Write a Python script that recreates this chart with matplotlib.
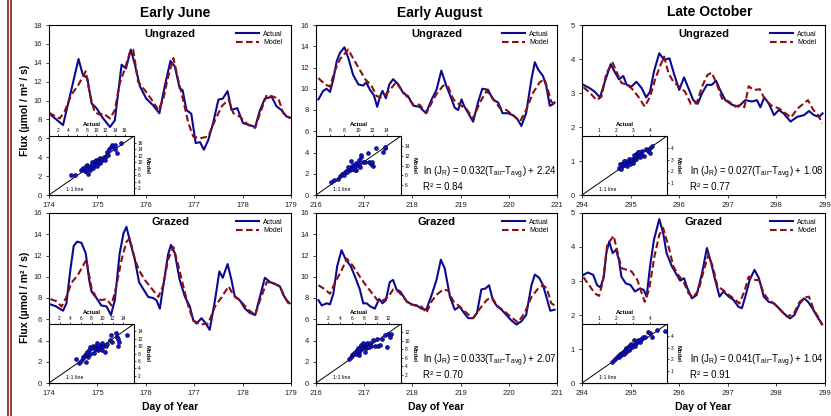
import numpy as np
import matplotlib
matplotlib.use("Agg")
import matplotlib.pyplot as plt
from matplotlib.lines import Line2D

plt.rcParams['font.family'] = ['Liberation Sans', 'DejaVu Sans']

# ---------------- data ----------------
# Early June, ungrazed
jun_ug_t_act = [174.00, 174.29, 174.46, 174.61, 174.70, 174.79, 174.88, 174.98, 175.12, 175.26, 175.36, 175.50,
                175.59, 175.69, 175.77, 175.88, 176.01, 176.15, 176.28, 176.39, 176.51, 176.60, 176.70, 176.76,
                176.84, 176.94, 177.03, 177.12, 177.20, 177.29, 177.39, 177.50, 177.59, 177.69, 177.77, 177.89,
                178.01, 178.15, 178.26, 178.36, 178.46, 178.60, 178.70, 178.80, 178.91, 178.98]
jun_ug_act = [8.65, 7.4, 11.1, 14.4, 12.7, 12.4, 9.7, 9.2, 8.1, 7.2, 7.9, 13.8,
              13.4, 15.4, 13.9, 11.5, 10.2, 9.5, 8.65, 11.5, 14.2, 13.6, 11.3, 11.1,
              9.0, 8.6, 5.5, 5.6, 4.8, 5.8, 7.6, 10.1, 10.2, 11.0, 9.0, 9.2,
              7.6, 7.4, 7.2, 9.0, 10.2, 10.4, 9.4, 9.0, 8.3, 8.2]
jun_ug_t_mod = [174.00, 174.22, 174.32, 174.46, 174.60, 174.76, 174.84, 174.94, 175.05, 175.12, 175.26, 175.36,
                175.46, 175.57, 175.67, 175.74, 175.84, 175.98, 176.12, 176.26, 176.36, 176.46, 176.57, 176.67,
                176.77, 176.88, 176.98, 177.12, 177.29, 177.43, 177.57, 177.71, 177.81, 177.94, 178.12, 178.26,
                178.36, 178.50, 178.64, 178.74, 178.84, 178.98]
jun_ug_mod = [8.7, 8.1, 8.8, 10.6, 11.6, 13.1, 10.8, 8.8, 8.5, 8.65, 8.1, 9.0,
              11.8, 13.4, 15.1, 15.4, 12.0, 11.1, 10.1, 9.0, 10.1, 12.5, 14.5, 12.2,
              10.1, 7.6, 6.2, 6.0, 6.2, 7.9, 9.4, 10.1, 8.65, 8.3, 7.4, 7.1,
              8.65, 10.6, 10.4, 10.2, 8.65, 8.1]
jun_ug_sc_act = [4.7, 5.4, 6.8, 7.2, 7.6, 7.8, 8.0, 8.3, 8.5, 8.8, 9.0, 9.2, 9.3, 9.5, 9.7, 9.9, 10.0, 10.2,
                 10.4, 10.6, 10.7, 10.9, 11.1, 11.3, 11.6, 11.8, 12.0, 12.3, 12.5, 12.8, 13.2, 13.4, 13.7,
                 13.9, 14.3, 13.9, 15.3, 9.3, 8.6, 7.9]
jun_ug_sc_mod = [6.2, 6.2, 7.7, 8.2, 7.2, 8.7, 9.3, 6.5, 8.2, 8.7, 9.3, 10.0, 8.2, 9.3, 10.3, 9.6, 10.8, 8.7,
                 10.3, 11.0, 9.8, 11.3, 10.5, 11.0, 11.6, 10.8, 12.0, 13.1, 12.3, 13.9, 14.7, 15.2, 14.9,
                 14.1, 12.9, 15.2, 15.9, 9.3, 7.7, 7.2]

# Early August, ungrazed
aug_ug_t_act = [216.05, 216.15, 216.22, 216.29, 216.36, 216.43, 216.50, 216.59, 216.67, 216.77, 216.88, 216.98,
                217.04, 217.12, 217.20, 217.27, 217.33, 217.38, 217.45, 217.52, 217.60, 217.71, 217.81, 217.91,
                218.02, 218.15, 218.28, 218.40, 218.50, 218.60, 218.71, 218.79, 218.88, 218.95, 219.02, 219.07,
                219.16, 219.26, 219.36, 219.45, 219.57, 219.67, 219.78, 219.87, 219.98, 220.09, 220.17, 220.26,
                220.36, 220.47, 220.54, 220.61, 220.71, 220.78, 220.85, 220.90, 220.95]
aug_ug_act = [9.0, 9.8, 10.0, 9.7, 10.9, 12.6, 13.4, 13.9, 12.9, 11.3, 10.4, 10.3,
              10.6, 9.9, 9.4, 8.3, 9.3, 9.8, 9.1, 10.4, 10.9, 10.4, 9.6, 9.3,
              8.4, 8.3, 7.7, 9.0, 9.9, 11.7, 10.2, 9.3, 8.2, 8.0, 9.0, 8.4,
              7.7, 6.9, 8.7, 10.0, 9.9, 9.0, 8.7, 7.7, 7.7, 7.5, 7.2, 6.5,
              7.7, 10.9, 12.5, 11.8, 11.2, 10.2, 8.4, 8.5, 8.7]
aug_ug_t_mod = [216.05, 216.19, 216.29, 216.39, 216.50, 216.67, 216.74, 216.88, 217.02, 217.15, 217.26, 217.36,
                217.46, 217.57, 217.66, 217.74, 217.88, 218.02, 218.15, 218.29, 218.40, 218.50, 218.64, 218.74,
                218.85, 218.98, 219.12, 219.26, 219.40, 219.54, 219.67, 219.81, 219.95, 220.09, 220.23, 220.36,
                220.50, 220.64, 220.74, 220.81, 220.88, 220.95]
aug_ug_mod = [11.0, 10.4, 10.2, 11.7, 12.8, 13.7, 13.1, 12.0, 10.9, 10.3, 9.3, 9.2,
              9.5, 10.1, 10.6, 10.1, 9.3, 8.5, 8.5, 7.7, 8.7, 9.5, 10.3, 10.2,
              9.0, 8.5, 8.1, 7.2, 8.7, 9.8, 9.1, 8.2, 8.0, 7.5, 6.9, 8.0,
              9.6, 10.6, 10.9, 9.9, 8.8, 8.5]
aug_ug_sc_act = [6.1, 6.6, 7.1, 7.4, 7.7, 8.0, 8.2, 8.4, 8.6, 8.8, 8.9, 9.0, 9.2, 9.4, 9.5, 9.6, 9.7, 9.9, 10.0,
                 10.1, 10.3, 10.4, 10.6, 10.2, 10.9, 11.4, 11.5, 11.7, 11.9, 12.1, 12.5, 13.5, 13.8, 13.8,
                 8.5, 9.5, 8.0, 9.1]
aug_ug_sc_mod = [6.7, 7.1, 7.3, 7.8, 8.2, 8.5, 8.9, 8.7, 9.3, 9.0, 10.9, 9.7, 10.2, 9.3, 9.8, 10.5, 9.0, 10.1, 10.4,
                 11.1, 11.7, 12.1, 10.7, 9.7, 10.7, 12.6, 10.7, 10.4, 10.7, 9.8, 13.5, 12.8, 13.5, 13.8,
                 9.7, 9.0, 8.0, 9.3]

# Late October, ungrazed
oct_ug_t_act = [294.03, 294.16, 294.26, 294.37, 294.47, 294.59, 294.67, 294.76, 294.85, 294.92, 295.02, 295.12,
                295.23, 295.32, 295.40, 295.48, 295.59, 295.69, 295.80, 295.89, 296.00, 296.10, 296.19, 296.29,
                296.38, 296.47, 296.57, 296.67, 296.76, 296.84, 296.95, 297.09, 297.22, 297.36, 297.50, 297.60,
                297.67, 297.75, 297.84, 297.95, 298.05, 298.15, 298.29, 298.43, 298.57, 298.67, 298.77, 298.88,
                298.95]
oct_ug_act = [3.24, 3.14, 3.04, 2.87, 3.33, 3.85, 3.63, 3.40, 3.50, 3.24, 3.19, 3.33,
              3.14, 2.87, 3.04, 3.63, 4.17, 3.97, 4.02, 3.58, 3.09, 3.46, 3.14, 2.79,
              2.68, 2.99, 3.24, 3.24, 3.36, 3.09, 2.79, 2.65, 2.60, 2.79, 2.75, 2.79,
              2.58, 2.87, 2.70, 2.35, 2.50, 2.40, 2.16, 2.30, 2.35, 2.47, 2.35, 2.30,
              2.40]
oct_ug_t_mod = [294.03, 294.16, 294.30, 294.40, 294.50, 294.63, 294.71, 294.81, 294.92, 295.02, 295.16, 295.29,
                295.40, 295.50, 295.60, 295.69, 295.78, 295.88, 296.00, 296.12, 296.24, 296.36, 296.47, 296.58,
                296.67, 296.78, 296.88, 297.02, 297.15, 297.26, 297.34, 297.43, 297.53, 297.66, 297.77, 297.91,
                298.05, 298.19, 298.30, 298.44, 298.57, 298.65, 298.76, 298.86, 298.94]
oct_ug_mod = [3.17, 3.01, 2.79, 2.89, 3.58, 3.89, 3.63, 3.30, 3.24, 3.14, 2.89, 2.60,
              2.89, 3.38, 3.77, 4.07, 3.58, 3.33, 3.19, 3.04, 2.68, 2.70, 3.19, 3.53,
              3.60, 3.24, 2.84, 2.75, 2.60, 2.65, 2.58, 3.20, 3.09, 3.11, 2.79, 2.62,
              2.55, 2.40, 2.28, 2.55, 2.70, 2.79, 2.50, 2.35, 2.11]
oct_ug_sc_act = [2.16, 2.25, 2.29, 2.35, 2.41, 2.49, 2.55, 2.61, 2.69, 2.75, 2.80, 2.88, 2.94, 3.00, 3.04, 3.10,
                 3.16, 3.20, 3.24, 3.29, 3.35, 3.43, 3.47, 3.53, 3.63, 3.78, 3.86, 3.98, 4.02, 4.12, 2.65,
                 2.84, 2.45, 3.33, 3.04]
oct_ug_sc_mod = [2.31, 2.60, 2.17, 2.46, 2.75, 2.51, 2.89, 2.60, 2.80, 3.03, 2.69, 2.89, 3.09, 2.75, 2.98, 3.18,
                 3.47, 3.03, 3.27, 3.61, 3.38, 3.18, 3.47, 3.76, 3.32, 3.90, 3.76, 3.55, 3.96, 4.13, 2.46,
                 2.60, 2.89, 3.67, 3.38]

# Early June, grazed
jun_gr_t_act = [174.03, 174.15, 174.29, 174.36, 174.44, 174.51, 174.58, 174.67, 174.76, 174.83, 174.88, 174.98,
                175.08, 175.19, 175.28, 175.36, 175.46, 175.54, 175.60, 175.68, 175.77, 175.86, 175.94, 176.05,
                176.15, 176.22, 176.29, 176.37, 176.46, 176.52, 176.60, 176.70, 176.81, 176.91, 176.98, 177.05,
                177.15, 177.24, 177.32, 177.43, 177.52, 177.59, 177.69, 177.77, 177.84, 177.94, 178.05, 178.15,
                178.26, 178.34, 178.46, 178.57, 178.67, 178.77, 178.84, 178.91, 178.97]
jun_gr_act = [7.4, 7.2, 6.8, 7.5, 10.6, 12.9, 13.3, 13.2, 12.2, 9.7, 8.6, 8.0,
              7.3, 7.2, 6.4, 7.8, 12.2, 14.1, 14.7, 13.2, 11.7, 9.5, 8.9, 8.1,
              8.0, 7.8, 7.0, 9.4, 12.1, 13.0, 12.2, 9.7, 8.1, 7.2, 5.9, 5.6,
              6.1, 5.6, 5.0, 7.8, 10.5, 9.9, 11.2, 9.7, 8.1, 7.8, 7.0, 6.6,
              6.4, 7.8, 9.9, 9.5, 9.3, 9.1, 8.3, 7.8, 7.5]
jun_gr_t_mod = [174.03, 174.15, 174.26, 174.36, 174.46, 174.60, 174.70, 174.77, 174.88, 174.98, 175.08, 175.19,
                175.29, 175.39, 175.50, 175.60, 175.67, 175.77, 175.86, 175.98, 176.12, 176.26, 176.36, 176.46,
                176.57, 176.67, 176.77, 176.88, 176.98, 177.12, 177.29, 177.43, 177.57, 177.71, 177.81, 177.94,
                178.12, 178.26, 178.36, 178.50, 178.64, 178.77, 178.88, 178.97]
jun_gr_mod = [7.9, 7.7, 7.2, 8.1, 9.4, 10.2, 11.0, 11.6, 8.9, 8.0, 7.8, 7.9,
              7.3, 9.1, 11.6, 13.3, 13.6, 11.7, 10.6, 9.7, 8.9, 8.1, 9.2, 11.6,
              12.8, 11.1, 9.2, 7.2, 5.9, 5.5, 5.6, 7.2, 8.1, 9.1, 8.3, 7.8,
              6.9, 6.4, 7.8, 9.5, 9.4, 9.1, 8.0, 7.3]
jun_gr_sc_act = [5.0, 5.6, 6.0, 6.4, 6.7, 6.9, 7.0, 7.2, 7.3, 7.5, 7.7, 7.8, 8.0, 8.2, 8.4, 8.6, 8.8, 8.9, 9.1,
                 9.3, 9.4, 9.5, 9.7, 9.9, 10.2, 10.5, 10.7, 10.9, 11.4, 11.7, 11.9, 12.7, 12.8, 13.0, 13.0,
                 13.2, 14.6, 6.4, 9.2, 10.0]
jun_gr_sc_mod = [6.5, 5.5, 5.9, 7.1, 7.6, 5.8, 7.9, 8.5, 7.1, 9.0, 9.7, 8.0, 9.4, 9.9, 8.2, 9.4, 9.9, 9.1, 10.8,
                 9.0, 9.9, 9.1, 10.1, 9.0, 9.9, 8.5, 9.9, 10.6, 11.7, 13.1, 11.2, 13.5, 12.6, 11.9, 10.1,
                 11.0, 13.1, 6.7, 10.3, 10.8]

# Early August, grazed
aug_gr_t_act = [216.05, 216.12, 216.22, 216.29, 216.36, 216.44, 216.53, 216.62, 216.72, 216.81, 216.91, 216.98,
                217.05, 217.13, 217.22, 217.31, 217.38, 217.45, 217.53, 217.60, 217.67, 217.75, 217.88, 217.98,
                218.09, 218.19, 218.29, 218.40, 218.50, 218.59, 218.67, 218.78, 218.88, 218.98, 219.07, 219.16,
                219.26, 219.34, 219.43, 219.52, 219.59, 219.67, 219.76, 219.85, 219.95, 220.05, 220.16, 220.26,
                220.36, 220.47, 220.54, 220.63, 220.71, 220.78, 220.86, 220.95]
aug_gr_act = [7.8, 7.3, 7.5, 7.4, 8.4, 11.0, 12.5, 11.6, 11.0, 10.0, 8.8, 7.5,
              7.5, 7.2, 7.0, 7.9, 7.5, 7.8, 9.5, 9.7, 8.8, 8.6, 7.7, 7.4,
              7.3, 7.0, 6.9, 8.3, 9.7, 11.6, 10.8, 8.1, 6.9, 7.2, 6.6, 6.1,
              6.1, 6.6, 8.8, 8.9, 9.2, 7.8, 7.2, 6.9, 6.4, 5.9, 5.5, 5.8,
              6.4, 9.2, 10.2, 9.9, 9.2, 8.1, 6.8, 6.9]
aug_gr_t_mod = [216.05, 216.19, 216.29, 216.39, 216.53, 216.64, 216.77, 216.91, 217.05, 217.19, 217.29, 217.40,
                217.50, 217.60, 217.71, 217.81, 217.91, 218.05, 218.19, 218.29, 218.40, 218.50, 218.64, 218.74,
                218.85, 218.98, 219.12, 219.26, 219.40, 219.54, 219.64, 219.78, 219.92, 220.05, 220.19, 220.33,
                220.47, 220.61, 220.71, 220.79, 220.88, 220.95]
aug_gr_mod = [9.2, 8.8, 8.4, 9.4, 10.6, 11.7, 11.0, 10.0, 9.1, 8.3, 7.7, 7.8,
              8.1, 8.8, 8.6, 8.1, 7.5, 7.3, 7.2, 6.6, 7.7, 8.3, 8.8, 8.7,
              7.7, 7.2, 6.6, 6.1, 7.0, 7.8, 8.1, 7.2, 6.7, 6.2, 5.7, 6.6,
              8.1, 8.9, 9.2, 8.9, 7.5, 7.3]
aug_gr_sc_act = [5.4, 5.7, 5.9, 6.1, 6.3, 6.5, 6.7, 6.8, 6.9, 7.1, 7.2, 7.3, 7.4, 7.6, 7.8, 7.9, 8.0, 8.2, 8.3,
                 8.4, 8.7, 8.9, 9.1, 9.4, 9.7, 10.0, 10.2, 10.6, 10.9, 11.3, 11.7, 11.8, 12.2, 12.3, 8.6, 7.1]
aug_gr_sc_mod = [5.8, 6.2, 6.6, 7.0, 6.9, 7.4, 7.8, 7.0, 8.2, 7.4, 8.6, 7.8, 9.0, 8.2, 9.4, 8.6, 7.4, 9.0, 8.2,
                 9.4, 8.6, 9.4, 8.8, 10.2, 8.8, 10.4, 8.8, 9.0, 10.4, 11.4, 8.6, 11.7, 11.0, 11.7, 8.6, 6.6]

# Late October, grazed
oct_gr_t_act = [294.03, 294.12, 294.23, 294.31, 294.38, 294.45, 294.50, 294.56, 294.63, 294.70, 294.76, 294.81,
                294.90, 295.00, 295.09, 295.19, 295.27, 295.33, 295.40, 295.48, 295.59, 295.67, 295.74, 295.85,
                295.95, 296.02, 296.10, 296.17, 296.26, 296.36, 296.47, 296.57, 296.65, 296.74, 296.83, 296.91,
                297.02, 297.12, 297.22, 297.29, 297.36, 297.45, 297.55, 297.64, 297.74, 297.84, 297.95, 298.05,
                298.15, 298.28, 298.37, 298.48, 298.57, 298.65, 298.74, 298.84, 298.94]
oct_gr_act = [3.18, 3.25, 3.18, 2.88, 2.81, 3.13, 3.82, 4.16, 3.82, 3.92, 3.62, 3.13,
              2.93, 2.88, 2.69, 2.78, 2.74, 2.54, 3.43, 4.21, 4.82, 4.41, 3.82, 3.43,
              3.18, 3.01, 3.08, 2.78, 2.49, 2.59, 3.23, 3.97, 3.57, 3.03, 2.54, 2.69,
              2.54, 2.44, 2.24, 2.20, 2.54, 3.03, 3.33, 3.08, 2.54, 2.39, 2.34, 2.20,
              2.05, 1.90, 2.00, 2.34, 2.49, 2.39, 2.20, 1.95, 1.73]
oct_gr_t_mod = [294.03, 294.16, 294.26, 294.35, 294.43, 294.52, 294.59, 294.65, 294.72, 294.81, 294.92, 295.02,
                295.14, 295.23, 295.29, 295.38, 295.49, 295.59, 295.67, 295.78, 295.88, 295.98, 296.09, 296.19,
                296.29, 296.40, 296.50, 296.60, 296.69, 296.79, 296.90, 297.02, 297.12, 297.24, 297.34, 297.43,
                297.53, 297.64, 297.74, 297.84, 297.95, 298.08, 298.22, 298.36, 298.48, 298.60, 298.67, 298.77,
                298.88, 298.94]
oct_gr_mod = [3.11, 2.85, 2.64, 2.56, 2.98, 4.07, 4.21, 4.33, 3.92, 3.38, 3.33, 3.28,
              3.03, 2.64, 2.39, 2.74, 3.72, 4.36, 4.56, 4.02, 3.43, 3.18, 2.98, 2.64,
              2.52, 2.74, 3.28, 3.77, 3.43, 2.83, 2.74, 2.59, 2.49, 2.34, 2.69, 3.13,
              3.03, 3.03, 2.64, 2.44, 2.34, 2.15, 1.95, 2.05, 2.39, 2.52, 2.54, 2.15,
              1.90, 1.70]
oct_gr_sc_act = [1.76, 1.90, 2.02, 2.10, 2.16, 2.22, 2.29, 2.35, 2.41, 2.45, 2.51, 2.57, 2.61, 2.65, 2.71, 2.76,
                 2.80, 2.84, 2.90, 2.96, 3.04, 3.14, 3.20, 3.27, 3.39, 3.47, 3.59, 3.73, 3.86, 3.98, 4.12,
                 4.41, 4.90, 3.08, 2.75]
oct_gr_sc_mod = [1.74, 1.94, 2.09, 2.29, 2.23, 2.46, 2.37, 2.57, 2.66, 2.46, 2.80, 2.66, 2.94, 2.80, 3.09, 2.80,
                 3.23, 2.94, 3.31, 3.09, 3.23, 3.14, 3.43, 3.66, 3.51, 3.71, 3.89, 3.94, 4.29, 4.23, 3.94,
                 4.46, 4.37, 3.66, 2.94]

titles = ["Early June", "Early August", "Late October"]
row_names = ["Ungrazed", "Grazed"]
equations = [None, "ln (J$_\\mathregular{R}$) = 0.032(T$_\\mathregular{air}$-T$_\\mathregular{avg}$) + 2.24",
             "ln (J$_\\mathregular{R}$) = 0.027(T$_\\mathregular{air}$-T$_\\mathregular{avg}$) + 1.08",
             None, "ln (J$_\\mathregular{R}$) = 0.033(T$_\\mathregular{air}$-T$_\\mathregular{avg}$) + 2.07",
             "ln (J$_\\mathregular{R}$) = 0.041(T$_\\mathregular{air}$-T$_\\mathregular{avg}$) + 1.04"]
r2_labels = [None, "R² = 0.84", "R² = 0.77", None, "R² = 0.70", "R² = 0.91"]

series = [
    (jun_ug_t_act, jun_ug_act, jun_ug_t_mod, jun_ug_mod, jun_ug_sc_act, jun_ug_sc_mod),
    (aug_ug_t_act, aug_ug_act, aug_ug_t_mod, aug_ug_mod, aug_ug_sc_act, aug_ug_sc_mod),
    (oct_ug_t_act, oct_ug_act, oct_ug_t_mod, oct_ug_mod, oct_ug_sc_act, oct_ug_sc_mod),
    (jun_gr_t_act, jun_gr_act, jun_gr_t_mod, jun_gr_mod, jun_gr_sc_act, jun_gr_sc_mod),
    (aug_gr_t_act, aug_gr_act, aug_gr_t_mod, aug_gr_mod, aug_gr_sc_act, aug_gr_sc_mod),
    (oct_gr_t_act, oct_gr_act, oct_gr_t_mod, oct_gr_mod, oct_gr_sc_act, oct_gr_sc_mod),
]
day_start = [174, 216, 294]
y_max = [18, 16, 5, 16, 16, 5]
y_step = [2, 2, 1, 2, 2, 1]
inset_range = [(0, 18), (4, 16), (0, 5), (0, 16), (0, 14), (0, 5)]
inset_ticks = [range(2, 17, 2), range(6, 15, 2), range(1, 5), range(2, 15, 2), range(2, 13, 2), range(1, 5)]

# ---------------- layout ----------------
W, H = 831, 416
BLUE = '#0a0a90'
RED = '#8c0f0f'

fig = plt.figure(figsize=(W / 100, H / 100), dpi=100)
fig.patch.set_facecolor('white')


def px_axes(l, t, w, h):
    return fig.add_axes([l / W, 1 - (t + h) / H, w / W, h / H])


col_l = [49, 316, 582]
col_w = [242, 241, 243]
row_t = [25, 213]
ax_h = 170

for i in range(6):
    r, c = divmod(i, 3)
    t_act, act, t_mod, mod, sc_a, sc_m = series[i]
    ax = px_axes(col_l[c], row_t[r], col_w[c], ax_h)
    ax.plot(t_act, act, color=BLUE, lw=1.5, solid_joinstyle='round', label='Actual')
    ax.plot(t_mod, mod, color=RED, lw=1.5, ls=(0, (3.2, 1.6)), label='Model')
    ax.set_xlim(day_start[c], day_start[c] + 5)
    ax.set_ylim(0, y_max[i])
    ax.set_yticks(np.arange(0, y_max[i] + 0.01, y_step[i]))
    ax.set_xticks(range(day_start[c], day_start[c] + 6))
    ax.tick_params(labelsize=5.5, length=2.5, width=0.6, pad=2.5, colors='#222222')
    for s in ax.spines.values():
        s.set_linewidth(0.8)
    ax.text(0.5, 0.945, row_names[r], transform=ax.transAxes, ha='center', va='center',
            fontsize=8, fontweight='bold')
    ax.legend(loc='upper right', bbox_to_anchor=(0.99, 1.0), frameon=False, fontsize=5,
              handlelength=3.3, handletextpad=0.7, labelspacing=0.25, borderaxespad=0.4)
    if equations[i]:
        ax.text(0.443, 0.13, equations[i], transform=ax.transAxes, fontsize=6.9, va='center')
        ax.text(0.443, 0.05, r2_labels[i], transform=ax.transAxes, fontsize=6.9, va='center')

    # inset actual vs model
    ins = px_axes(col_l[c], row_t[r] + 111, 85, 59)
    ins.set_facecolor('white')
    lo, hi = inset_range[i]
    ins.plot([lo, hi], [lo, hi], color='black', lw=0.7)
    ins.scatter(sc_a, sc_m, s=8, c='#1010d0', edgecolors='#000040', linewidths=0.4, zorder=3)
    ins.set_xlim(lo, hi)
    ins.set_ylim(lo, hi)
    ins.xaxis.tick_top()
    ins.yaxis.tick_right()
    ins.xaxis.set_label_position('top')
    ins.yaxis.set_label_position('right')
    ins.set_xticks(list(inset_ticks[i]))
    ins.set_yticks(list(inset_ticks[i]))
    ins.tick_params(labelsize=3.5, length=1.5, width=0.5, pad=1)
    ins.set_xlabel('Actual', fontsize=4.2, fontweight='bold', labelpad=1)
    ins.set_ylabel('Model', fontsize=4.2, fontweight='bold', rotation=270, labelpad=5)
    ins.text(0.2, 0.1, '1:1 line', transform=ins.transAxes, fontsize=3.8, va='center')
    for s in ins.spines.values():
        s.set_linewidth(0.8)

# titles and shared labels
title_x = [175, 440, 710]
for c in range(3):
    fig.text(title_x[c] / W, 1 - 12.5 / H, titles[c], ha='center', va='center',
             fontsize=10, fontweight='bold')
    fig.text((col_l[c] + col_w[c] / 2) / W, 1 - 407 / H, 'Day of Year', ha='center', va='center',
             fontsize=7.5, fontweight='bold')
for yc in [110, 297]:
    fig.text(25 / W, 1 - yc / H, 'Flux (µmol / m² / s)', ha='center', va='center', rotation=90,
             fontsize=7.5, fontweight='bold')

# double border on the left edge
for xb in [7.8, 11]:
    fig.add_artist(Line2D([xb / W, xb / W], [0, 1], color='#861a1a', lw=1.2, transform=fig.transFigure))

fig.savefig('out.png', dpi=100)
